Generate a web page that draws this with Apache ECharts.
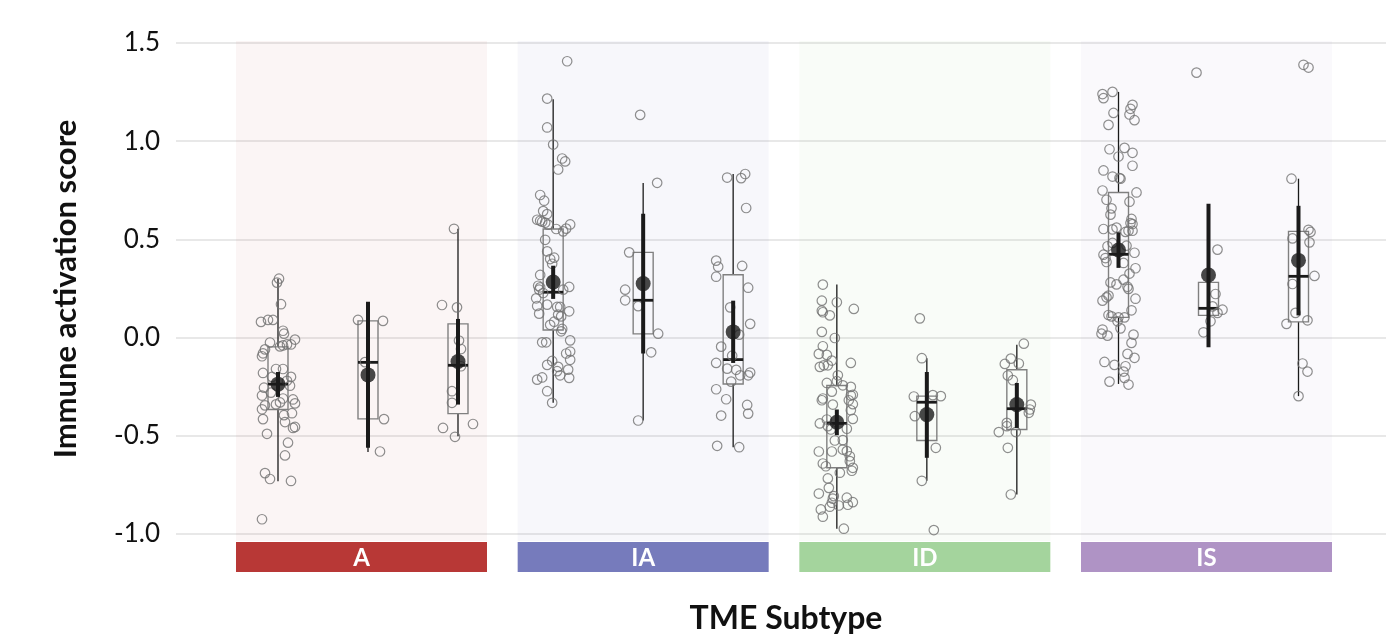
<!DOCTYPE html>
<html>
<head>
<meta charset="utf-8">
<script src="https://cdn.jsdelivr.net/npm/echarts@6/dist/echarts.min.js"></script>
<style>
  html, body { margin: 0; background: #fff; }
  #chart { width: 1395px; height: 639px; }
</style>
</head>
<body>
<div id="chart"></div>
<script>
// --- data ---
const subtypes = ['A', 'IA', 'ID', 'IS'];

// jittered sample scores, 3 sub-groups per subtype; jit = horizontal jitter (px)
const ptsA1 = [0.30, 0.28, 0.17, 0.08, 0.09, 0.09, 0.035, 0.02, -0.01, -0.025, -0.06, -0.08, -0.095, -0.045, -0.04, -0.035, -0.035, -0.18, -0.16, -0.16, -0.20, -0.20, -0.22, -0.255, -0.245, -0.28, -0.295, -0.315, -0.335, -0.31, -0.33, -0.34, -0.345, -0.365, -0.385, -0.395, -0.43, -0.415, -0.455, -0.46, -0.49, -0.535, -0.60, -0.69, -0.72, -0.73, -0.925];
const jitA1 = [1, -1, 3, -17, -10, -5, 5, 6, 17, -8, -13, -15, -16, 2, 5, 9, 13, -15, -2, 5, -6, 13, 9, -14, 12, -7, -16, 15, 17, 5, 2, -2, -13, -16, 14, 6, 7, -15, 17, 15, -11, 10, 7, -13, -8, 13, -16];
const ptsA2 = [0.09, 0.085, -0.125, -0.415, -0.58];
const jitA2 = [-10, 15, -3, 16, 12];
const ptsA3 = [0.554, 0.166, 0.154, -0.015, -0.058, -0.146, -0.273, -0.332, -0.46, -0.44, -0.505];
const jitA3 = [-4, -16, -1, 1, 3, 3, -6, -6, -15, 15, -3];

const ptsIA1 = [1.407, 1.217, 1.07, 0.983, 0.912, 0.897, 0.856, 0.726, 0.697, 0.644, 0.629, 0.60, 0.595, 0.59, 0.585, 0.575, 0.553, 0.541, 0.555, 0.576, 0.498, 0.439, 0.40, 0.407, 0.376, 0.319, 0.264, 0.256, 0.244, 0.258, 0.244, 0.227, 0.20, 0.168, 0.161, 0.122, 0.156, 0.156, 0.134, 0.117, 0.108, 0.065, 0.081, 0.044, 0.032, -0.024, -0.024, -0.014, -0.081, -0.071, -0.113, -0.119, -0.139, -0.149, -0.163, -0.171, -0.192, -0.214, -0.203, -0.205, -0.273, -0.332];
const jitIA1 = [14, -6, -6, 0, 9, 12, 5, -13, -9, -10, -6, -16, -13, -11, -8, -5, 3, 10, 13, 17, -8, -6, -3, 1, -1, -13, -15, -13, -14, 16, 10, -10, -17, -6, -16, -14, 4, 7, 16, 5, 8, -3, 1, 9, 8, -11, -7, 17, 13, 17, 17, -1, -6, 5, 15, 4, 7, -16, -11, 16, -6, -1];
const ptsIA2 = [1.134, 0.788, 0.434, 0.244, 0.19, 0.16, 0.02, -0.075, -0.422];
const jitIA2 = [-3, 14, -14, -18, -18, -5, 15, 8, -5];
const ptsIA3 = [0.815, 0.812, 0.833, 0.66, 0.392, 0.361, 0.31, 0.365, 0.254, 0.154, 0.07, 0.015, -0.046, -0.092, -0.129, -0.158, -0.164, -0.192, -0.192, -0.178, -0.224, -0.263, -0.314, -0.397, -0.343, -0.387, -0.551, -0.558];
const jitIA3 = [-6, 8, 12, 13, -17, -15, -17, 9, 15, -3, 17, 6, -12, -1, -17, -6, 3, 7, 15, 17, -2, -17, -7, -12, 14, 15, -16, 6];

const ptsID1 = [0.27, 0.188, 0.18, 0.137, 0.129, 0.113, 0.146, 0.029, -0.002, -0.044, -0.083, -0.088, -0.117, -0.149, -0.141, -0.141, -0.129, -0.192, -0.231, -0.222, -0.243, -0.251, -0.275, -0.31, -0.319, -0.295, -0.291, -0.319, -0.341, -0.339, -0.37, -0.414, -0.437, -0.417, -0.464, -0.468, -0.451, -0.524, -0.522, -0.58, -0.58, -0.57, -0.578, -0.604, -0.641, -0.655, -0.629, -0.663, -0.678, -0.717, -0.688, -0.765, -0.794, -0.807, -0.82, -0.815, -0.838, -0.851, -0.841, -0.861, -0.855, -0.875, -0.912, -0.973];
const jitID1 = [-14, -15, 0, -15, -14, -7, 17, -15, -2, -14, -18, -10, -5, -17, -13, -9, 14, 1, -10, 0, 6, 14, -5, -14, -15, 14, 16, 12, -4, 16, 14, 16, -17, -10, 10, -6, -9, -2, 6, -18, -5, 6, 10, 13, -14, -11, 13, 16, 15, -9, 3, -8, -18, -3, -4, 10, 16, 11, -5, -7, 2, -16, -14, 7];
const ptsID2 = [0.098, -0.105, -0.30, -0.293, -0.298, -0.40, -0.561, -0.729, -0.98];
const jitID2 = [-7, -5, -13, 6, 14, -12, 9, -5, 7];
const ptsID3 = [-0.031, -0.134, -0.107, -0.132, -0.193, -0.217, -0.341, -0.366, -0.383, -0.434, -0.451, -0.481, -0.481, -0.561, -0.799];
const jitID3 = [7, -12, -6, 2, -9, -4, 14, 13, 12, -10, -10, -18, -1, -9, -6];

const ptsIS1 = [1.24, 1.219, 1.251, 1.185, 1.165, 1.136, 1.144, 1.107, 1.083, 0.959, 0.966, 0.922, 0.941, 0.875, 0.851, 0.82, 0.812, 0.809, 0.749, 0.739, 0.702, 0.692, 0.658, 0.626, 0.604, 0.583, 0.578, 0.553, 0.551, 0.56, 0.538, 0.544, 0.544, 0.482, 0.465, 0.468, 0.422, 0.405, 0.385, 0.432, 0.38, 0.353, 0.326, 0.295, 0.281, 0.271, 0.259, 0.248, 0.198, 0.188, 0.205, 0.214, 0.139, 0.115, 0.108, 0.103, 0.103, 0.083, 0.047, 0.041, 0.02, 0.01, 0.015, -0.027, -0.083, -0.103, -0.124, -0.139, -0.146, -0.173, -0.224, -0.205, -0.239];
const jitIS1 = [-16, -15, -6, 14, 12, 11, -5, 16, -10, -9, 6, 0, 14, 14, -15, -6, 1, 2, -16, 18, -12, 11, -7, -8, 13, 12, 14, -15, -6, -2, 7, 10, 14, -6, -11, 8, -15, -13, -12, 16, 5, 17, 11, 5, -8, -2, 9, 10, 17, -16, -12, -10, 13, -10, -7, 0, 6, -1, 2, -16, -17, -11, 15, 13, 9, 16, -14, -4, 7, 5, -9, 6, 10];
const ptsIS2 = [1.349, 0.448, 0.222, 0.159, 0.126, 0.142, 0.083, 0.027];
const jitIS2 = [-12, 9, 7, 4, 9, 14, 2, -5];
const ptsIS3 = [1.389, 1.375, 0.809, 0.549, 0.538, 0.505, 0.485, 0.314, 0.273, 0.126, 0.07, 0.088, -0.132, -0.173, -0.298];
const jitIS3 = [5, 10, -7, 10, 12, -6, 11, 16, -6, -3, -12, 9, 4, 9, 0];

// box stats: [lower whisker, Q1, median, Q3, upper whisker]
const boxA  = [[-0.731, -0.366, -0.237, -0.047, 0.30], [-0.583, -0.414, -0.126, 0.085, 0.085], [-0.502, -0.387, -0.141, 0.07, 0.554]];
const boxIA = [[-0.332, 0.039, 0.231, 0.553, 1.214], [-0.422, 0.019, 0.19, 0.434, 0.787], [-0.558, -0.236, -0.112, 0.32, 0.833]];
const boxID = [[-0.973, -0.663, -0.437, -0.244, 0.27], [-0.729, -0.524, -0.329, -0.298, -0.105], [-0.799, -0.468, -0.362, -0.164, -0.036]];
const boxIS = [[-0.236, 0.103, 0.424, 0.739, 1.251], [0.027, 0.113, 0.149, 0.281, 0.448], [-0.298, 0.08, 0.312, 0.541, 0.809]];

// mean with interval: [mean, low, high]
const meanA  = [[-0.237, -0.302, -0.175], [-0.19, -0.561, 0.183], [-0.122, -0.341, 0.095]];
const meanIA = [[0.283, 0.197, 0.366], [0.275, -0.081, 0.631], [0.029, -0.129, 0.188]];
const meanID = [[-0.431, -0.497, -0.366], [-0.392, -0.612, -0.175], [-0.341, -0.46, -0.231]];
const meanIS = [[0.446, 0.355, 0.536], [0.319, -0.049, 0.682], [0.393, 0.113, 0.671]];

const yTicks = [-1.0, -0.5, 0.0, 0.5, 1.0, 1.5];

// --- layout / style ---
const stripColors = ['#b83836', '#767bbc', '#a4d49d', '#af93c5'];
const panelColors = ['rgba(184,56,54,0.05)', 'rgba(118,123,188,0.06)', 'rgba(164,212,157,0.07)', 'rgba(175,147,197,0.06)'];
const PX = 281.67;                  // px per subtype on the x scale
const dodge = 90 / PX;
const catShift = [6.5 / PX, 0, 2 / PX, 2 / PX];
const boxHalf = 10 / PX;
const panelHalf = 125.5 / PX;

const allPts = [[ptsA1, ptsA2, ptsA3], [ptsIA1, ptsIA2, ptsIA3], [ptsID1, ptsID2, ptsID3], [ptsIS1, ptsIS2, ptsIS3]];
const allJit = [[jitA1, jitA2, jitA3], [jitIA1, jitIA2, jitIA3], [jitID1, jitID2, jitID3], [jitIS1, jitIS2, jitIS3]];
const allBox = [boxA, boxIA, boxID, boxIS];
const allMean = [meanA, meanIA, meanID, meanIS];

const gx = (c, k) => c + 1 + catShift[c] + (k - 1) * dodge;

const pointData = [], boxData = [], meanData = [], barData = [];
subtypes.forEach((s, c) => {
  for (let k = 0; k < 3; k++) {
    const x = gx(c, k);
    allPts[c][k].forEach((v, i) => pointData.push([x + allJit[c][k][i] / PX, v]));
    boxData.push([x, ...allBox[c][k]]);
    const m = allMean[c][k];
    meanData.push([x, m[0]]);
    barData.push([x, m[1], m[2]]);
  }
});

const chart = echarts.init(document.getElementById('chart'));
const FONT = 'Lato, "Noto Sans", sans-serif';

chart.setOption({
  backgroundColor: '#fff',
  animation: false,
  grid: { left: 176, right: 9, top: 43, bottom: 105 },
  xAxis: { type: 'value', min: 1 - 185.5 / PX, max: 4 + 179.5 / PX, show: false },
  yAxis: {
    type: 'value', min: yTicks[0], max: yTicks[yTicks.length - 1], interval: 0.5,
    axisLine: { show: false }, axisTick: { show: false },
    axisLabel: { fontSize: 26, color: '#111', fontFamily: FONT, margin: 16, formatter: (v) => v.toFixed(1) },
    splitLine: { lineStyle: { color: '#e8e8e8', width: 2 } },
  },
  graphic: [
    { type: 'text', x: 66, y: 289, rotation: Math.PI / 2,
      style: { text: 'Immune activation score', fontSize: 31, fontWeight: 'bold', fontFamily: FONT, fill: '#111', align: 'center', verticalAlign: 'middle' } },
    { type: 'text', x: 786, y: 619,
      style: { text: 'TME Subtype', fontSize: 32, fontWeight: 'bold', fontFamily: FONT, fill: '#111', align: 'center', verticalAlign: 'middle' } },
  ],
  series: [
    { // tinted panels and strips
      type: 'custom', z: 1, clip: false,
      data: subtypes.map((s, c) => [c + 1]),
      renderItem: (params, api) => {
        const c = api.value(0);
        const [x0, yTop] = api.coord([c - panelHalf, 1.5]);
        const [x1, yBot] = api.coord([c + panelHalf, -1.0]);
        const i = params.dataIndex;
        return { type: 'group', children: [
          { type: 'rect', shape: { x: x0, y: yTop - 2, width: x1 - x0, height: yBot - yTop + 9 }, style: { fill: panelColors[i] } },
          { type: 'rect', shape: { x: x0, y: yBot + 8, width: x1 - x0, height: 30 }, style: { fill: stripColors[i] } },
          { type: 'text', style: { x: (x0 + x1) / 2, y: yBot + 24, text: subtypes[i], fill: '#fff', fontSize: 24, fontWeight: 'bold', fontFamily: FONT, align: 'center', verticalAlign: 'middle' } },
        ] };
      },
    },
    { // boxes and whiskers
      type: 'custom', z: 2,
      data: boxData,
      renderItem: (params, api) => {
        const x = api.value(0);
        const [xl, yq3] = api.coord([x - boxHalf, api.value(4)]);
        const [xr, yq1] = api.coord([x + boxHalf, api.value(2)]);
        const [xc, yhi] = api.coord([x, api.value(5)]);
        const ylo = api.coord([x, api.value(1)])[1];
        const ymed = api.coord([x, api.value(3)])[1];
        const w = { stroke: '#1a1a1a', lineWidth: 1.3 };
        return { type: 'group', children: [
          { type: 'line', shape: { x1: xc, y1: yhi, x2: xc, y2: yq3 }, style: w },
          { type: 'line', shape: { x1: xc, y1: yq1, x2: xc, y2: ylo }, style: w },
          { type: 'rect', shape: { x: xl, y: yq3, width: xr - xl, height: yq1 - yq3 }, style: { fill: 'none', stroke: '#808080', lineWidth: 1.4 } },
          { type: 'line', shape: { x1: xl, y1: ymed, x2: xr, y2: ymed }, style: { stroke: '#1a1a1a', lineWidth: 2.8 } },
        ] };
      },
    },
    { // jittered samples
      type: 'scatter', z: 3,
      data: pointData, symbol: 'circle', symbolSize: 9.5,
      itemStyle: { color: 'rgba(255,255,255,0)', borderColor: '#727272', borderWidth: 1.2 },
    },
    { // mean interval
      type: 'custom', z: 4,
      data: barData,
      renderItem: (params, api) => {
        const [x, y0] = api.coord([api.value(0), api.value(1)]);
        const y1 = api.coord([api.value(0), api.value(2)])[1];
        return { type: 'line', shape: { x1: x, y1: y0, x2: x, y2: y1 }, style: { stroke: '#1a1a1a', lineWidth: 4 } };
      },
    },
    { // mean
      type: 'scatter', z: 5,
      data: meanData, symbol: 'circle', symbolSize: 15,
      itemStyle: { color: '#1a1a1a' },
    },
  ],
});
</script>
</body>
</html>
